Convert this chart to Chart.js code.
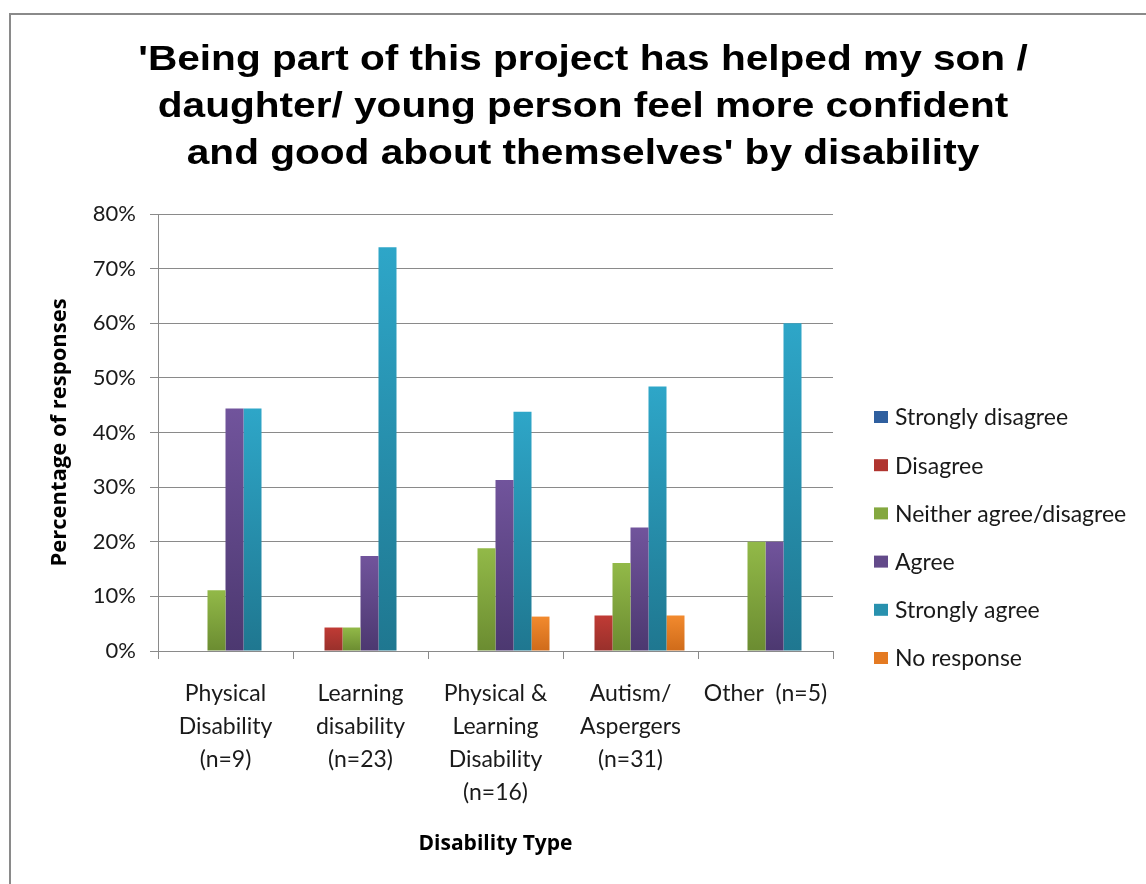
<!DOCTYPE html>
<html>
<head>
<meta charset="utf-8">
<script src="https://cdn.jsdelivr.net/npm/chart.js@4/dist/chart.umd.min.js"></script>
<style>
  html, body { margin: 0; padding: 0; background: #fff; }
  #wrap { width: 1146px; height: 884px; position: relative; }
</style>
</head>
<body>
<div id="wrap"><canvas id="c" width="1146" height="884"></canvas></div>
<script>
const titleLines = [
  "'Being part of this project has helped my son /",
  "daughter/ young person feel more confident",
  "and good about themselves' by disability"
];
const categories = [
  ["Physical", "Disability", "(n=9)"],
  ["Learning", "disability", "(n=23)"],
  ["Physical &", "Learning", "Disability", "(n=16)"],
  ["Autism/", "Aspergers", "(n=31)"],
  ["Other  (n=5)"]
];
const seriesNames = ["Strongly disagree", "Disagree", "Neither agree/disagree", "Agree", "Strongly agree", "No response"];
const stronglyDisagree = [0, 0, 0, 0, 0];
const disagree         = [0, 4.3, 0, 6.5, 0];
const neither          = [11.1, 4.3, 18.8, 16.1, 20];
const agree            = [44.4, 17.4, 31.3, 22.6, 20];
const stronglyAgree    = [44.4, 73.9, 43.8, 48.4, 60];
const noResponse       = [0, 0, 6.3, 6.5, 0];
const yTicksMax = 80;
const yTicksStep = 10;

const seriesValues = [stronglyDisagree, disagree, neither, agree, stronglyAgree, noResponse];
const topColors    = ["#3a6fb5", "#c03b35", "#92b948", "#71549c", "#2ea6c8", "#f28a2e"];
const bottomColors = ["#254a7c", "#98302b", "#6b8c31", "#4c3870", "#1f7790", "#cf6b1a"];
const legendColors = ["#2f5f9f", "#b0342f", "#84a83f", "#634a8a", "#2891ae", "#e47a22"];

function gradFor(i) {
  return function (ctx) {
    const chart = ctx.chart;
    const area = chart.chartArea;
    if (!area || ctx.type !== 'data') return topColors[i];
    const v = ctx.raw;
    const y = chart.scales.y;
    const yTop = y.getPixelForValue(v);
    const yBot = y.getPixelForValue(0);
    if (yBot - yTop < 1) return topColors[i];
    const g = chart.ctx.createLinearGradient(0, yTop, 0, yBot);
    g.addColorStop(0, topColors[i]);
    g.addColorStop(1, bottomColors[i]);
    return g;
  };
}

const datasets = seriesNames.map((name, i) => ({
  label: name,
  data: seriesValues[i],
  backgroundColor: gradFor(i),
  borderWidth: 0,
  categoryPercentage: 0.8,
  barPercentage: 1.0
}));

const frameTitleLegend = {
  id: 'frameTitleLegend',
  beforeDraw(chart) {
    const c = chart.ctx;
    c.save();
    c.fillStyle = '#ffffff';
    c.fillRect(0, 0, chart.width, chart.height);
    c.strokeStyle = '#8a8a8a';
    c.lineWidth = 2;
    c.strokeRect(10, 14, 1300, 1000);
    c.restore();
  },
  afterDraw(chart) {
    const c = chart.ctx;
    // title (stretched horizontally like the original)
    c.save();
    c.font = 'bold 35px "Liberation Sans", Arial, sans-serif';
    c.fillStyle = '#000';
    c.textAlign = 'center';
    c.textBaseline = 'alphabetic';
    c.translate(583, 0);
    c.scale(1.16, 1);
    titleLines.forEach((l, i) => c.fillText(l, 0, 70 + i * 47));
    c.restore();
    // legend
    c.save();
    c.font = '23px Lato';
    c.textBaseline = 'middle';
    c.textAlign = 'left';
    const x0 = 874, y0 = 417, step = 48.2;
    chart.data.datasets.forEach((ds, i) => {
      const y = y0 + i * step;
      c.fillStyle = legendColors[i];
      c.fillRect(x0, y - 6, 14, 12);
      c.fillStyle = '#1a1a1a';
      c.fillText(ds.label, x0 + 21, y + 1);
    });
    c.restore();
  }
};

new Chart(document.getElementById('c'), {
  type: 'bar',
  data: { labels: categories, datasets },
  plugins: [frameTitleLegend],
  options: {
    responsive: false,
    animation: false,
    devicePixelRatio: 1,
    layout: { padding: { left: 20, right: 0, top: 214, bottom: 0 } },
    plugins: {
      legend: { display: false },
      tooltip: { enabled: false },
      title: { display: false }
    },
    scales: {
      x: {
        grid: { display: true, drawOnChartArea: false, drawTicks: true, tickLength: 8, color: '#8a8a8a', offset: true },
        border: { display: true, color: '#8a8a8a', width: 1 },
        ticks: { autoSkip: false, maxRotation: 0, minRotation: 0, padding: 18, color: '#1a1a1a', font: { family: 'Lato', size: 23, lineHeight: 1.435 } },
        title: { display: true, text: 'Disability Type', color: '#000', font: { family: 'Open Sans', size: 21, weight: 'bold', lineHeight: 1.2 }, padding: { top: 0, bottom: 27 } },
        afterFit(s) { s.height = 233; }
      },
      y: {
        min: 0, max: yTicksMax,
        grid: { color: '#8a8a8a', lineWidth: 1, tickLength: 8, drawTicks: true },
        border: { display: true, color: '#8a8a8a', width: 1 },
        ticks: { stepSize: yTicksStep, padding: 14, color: '#1a1a1a', font: { family: 'Lato', size: 22 }, callback: v => v + '%' },
        title: { display: true, text: 'Percentage of responses', color: '#000', font: { family: 'Open Sans', size: 22, weight: 'bold', lineHeight: 1.2 }, padding: { top: 27, bottom: 0 } },
        afterFit(s) { s.width = 138; }
      },
      yRight: {
        position: 'right',
        display: true,
        grid: { display: false, drawTicks: false },
        border: { display: false },
        ticks: { display: false },
        afterFit(s) { s.width = 313; }
      }
    }
  }
});
</script>
</body>
</html>
